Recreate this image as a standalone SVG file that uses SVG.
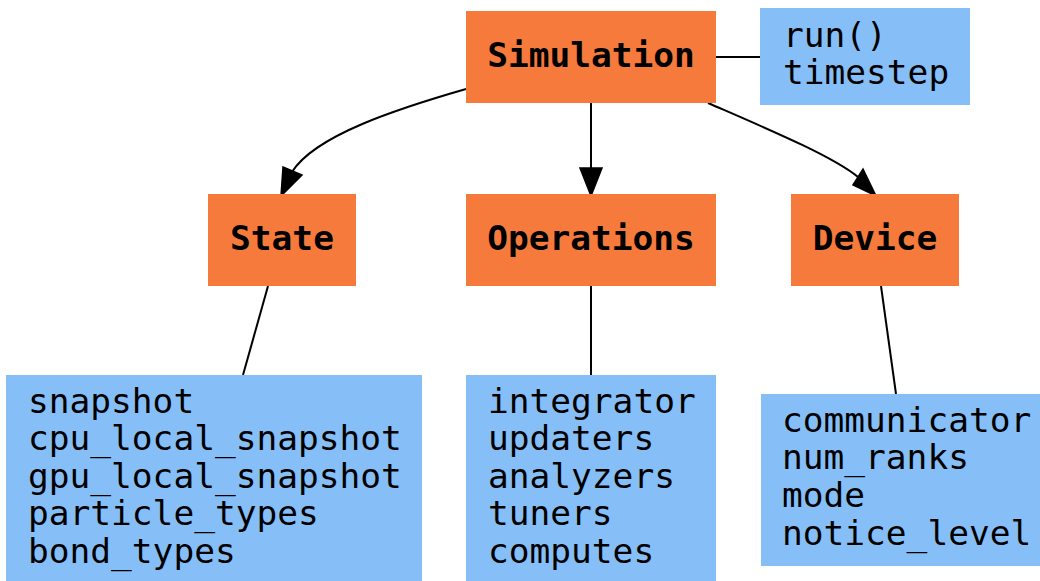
<svg xmlns="http://www.w3.org/2000/svg" width="1040" height="581" viewBox="0 0 1040 581">
  <style>
    .main rect { fill: #f67a3c; }
    .info rect { fill: #86bff8; }
    .main text { font-family: "DejaVu Sans Mono", monospace; font-weight: bold; font-size: 34.5px; fill: #000; text-anchor: middle; }
    .info text { font-family: "DejaVu Sans Mono", monospace; font-size: 34.5px; fill: #000; }
    .edge { fill: none; stroke: #000; stroke-width: 2; }
    .head { fill: #000; stroke: #000; stroke-width: 1.5; stroke-linejoin: miter; }
  </style>
  <rect width="1040" height="581" fill="#ffffff"/>

  <g id="connectors">
    <!-- Simulation to State -->
    <path class="edge" d="M466,89 C400,108 315,135 292,172"/>
    <polygon class="head" points="283,167 302,175 281,196"/>
    <!-- Simulation to Operations -->
    <path class="edge" d="M591,103 L591,168"/>
    <polygon class="head" points="580,168 602,168 591,196"/>
    <!-- Simulation to Device -->
    <path class="edge" d="M708,103 C770,130 832,156 858,177"/>
    <polygon class="head" points="853,185 863,169 876,196"/>
    <!-- Simulation to run()/timestep -->
    <path class="edge" d="M716,57 L760,57"/>
    <!-- State to its members -->
    <path class="edge" d="M268,286 L243,375"/>
    <!-- Operations to its members -->
    <path class="edge" d="M591,286 L591,375"/>
    <!-- Device to its members -->
    <path class="edge" d="M881,286 L896,394"/>
  </g>

  <g id="simulation" class="main">
    <rect x="466" y="11" width="250" height="92"/>
    <text x="591" y="67">Simulation</text>
  </g>
  <g id="simulation-members" class="info">
    <rect x="760" y="8" width="210" height="97"/>
    <text x="783" y="47">run()</text>
    <text x="783" y="84">timestep</text>
  </g>

  <g id="state" class="main">
    <rect x="208" y="194" width="148" height="92"/>
    <text x="282" y="250">State</text>
  </g>
  <g id="operations" class="main">
    <rect x="466" y="194" width="250" height="92"/>
    <text x="591" y="250">Operations</text>
  </g>
  <g id="device" class="main">
    <rect x="791" y="194" width="168" height="92"/>
    <text x="875" y="250">Device</text>
  </g>

  <g id="state-members" class="info">
    <rect x="6" y="375" width="416" height="206"/>
    <text x="28" y="413">snapshot</text>
    <text x="28" y="450">cpu_local_snapshot</text>
    <text x="28" y="488">gpu_local_snapshot</text>
    <text x="28" y="525">particle_types</text>
    <text x="28" y="563">bond_types</text>
  </g>
  <g id="operations-members" class="info">
    <rect x="466" y="375" width="250" height="206"/>
    <text x="488" y="413">integrator</text>
    <text x="488" y="450">updaters</text>
    <text x="488" y="488">analyzers</text>
    <text x="488" y="525">tuners</text>
    <text x="488" y="563">computes</text>
  </g>
  <g id="device-members" class="info">
    <rect x="761" y="394" width="279" height="172"/>
    <text x="782" y="432">communicator</text>
    <text x="782" y="469">num_ranks</text>
    <text x="782" y="507">mode</text>
    <text x="782" y="545">notice_level</text>
  </g>
</svg>
